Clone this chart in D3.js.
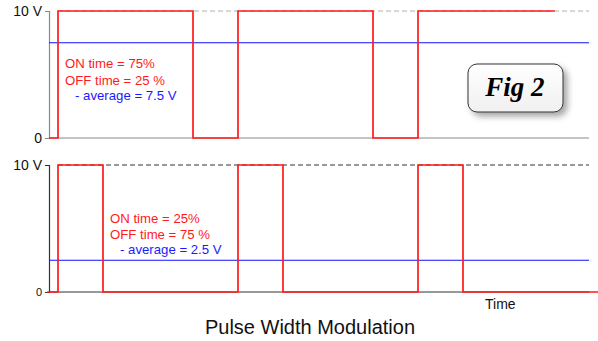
<!DOCTYPE html>
<html><head><meta charset="utf-8">
<script src="https://cdn.jsdelivr.net/npm/d3@7"></script>
<style>
html,body{margin:0;padding:0;background:#fff;}
svg{display:block;font-family:"Liberation Sans",Arial,sans-serif;}
</style></head>
<body>
<svg id="c" width="598" height="341"></svg>
<script>
// ---- data ----
const topTimes = [0, 0.05, 0.80, 1.05, 1.80, 2.05, 2.81];
const topVolts = [0, 10, 0, 10, 0, 10, 10];
const botTimes = [-0.01, 0.05, 0.30, 1.05, 1.30, 2.05, 2.30, 3.05];
const botVolts = [0, 10, 0, 10, 0, 10, 0, 0];
const averages = [7.5, 2.5];
const yTickValues = [0, 10];
const yTickLabels = ["0", "10 V"];
const topNotes = ["ON time = 75%", "OFF time = 25 %", "- average = 7.5 V"];
const botNotes = ["ON time = 25%", "OFF time = 75 %", "- average = 2.5 V"];
const title = "Pulse Width Modulation";
const xLabel = "Time";
const figLabel = "Fig 2";

const svg = d3.select("#c");
const defs = svg.append("defs");
const f = defs.append("filter").attr("id","sh").attr("x","-20%").attr("y","-20%").attr("width","150%").attr("height","160%");
f.append("feDropShadow").attr("dx",4).attr("dy",4).attr("stdDeviation",3).attr("flood-color","#000").attr("flood-opacity",0.35);
const g = defs.append("linearGradient").attr("id","bg").attr("x1",0).attr("y1",0).attr("x2",0).attr("y2",1);
g.append("stop").attr("offset","0%").attr("stop-color","#ffffff");
g.append("stop").attr("offset","100%").attr("stop-color","#f0f0f0");

const x = d3.scaleLinear().domain([0, 3]).range([49, 589]);
const yTop = d3.scaleLinear().domain([0, 10]).range([138, 11]);
const yBot = d3.scaleLinear().domain([0, 10]).range([292, 165]);

function panel(y, times, volts, avg, notes, opts) {
  const gp = svg.append("g");
  // dashed 10 V reference
  gp.append("line").attr("x1", x(opts.dashFrom)).attr("x2", x(3)).attr("y1", y(10)).attr("y2", y(10))
    .attr("stroke", opts.dashColor).attr("stroke-width", 1).attr("stroke-dasharray", "5,3");
  // baseline
  gp.append("line").attr("x1", x(0)).attr("x2", x(3)).attr("y1", y(0)).attr("y2", y(0))
    .attr("stroke", opts.axisColor).attr("stroke-width", 1.2);
  // axis
  const ax = d3.axisLeft(y).tickValues(yTickValues).tickSize(4).tickPadding(3)
    .tickFormat((d,i) => yTickLabels[i]);
  const ag = gp.append("g").attr("transform", `translate(${x(0)},0)`).call(ax);
  ag.select(".domain").attr("stroke", opts.axisColor).attr("stroke-width", 1.2);
  ag.selectAll(".tick line").attr("stroke", opts.axisColor);
  ag.selectAll(".tick text").attr("fill", "#111").attr("font-family", "Liberation Sans, Arial, sans-serif")
    .attr("font-size", d => d === 10 ? 14 : opts.zeroSize);
  // average
  gp.append("line").attr("x1", x(0)).attr("x2", x(3)).attr("y1", y(avg)).attr("y2", y(avg))
    .attr("stroke", "#1010ff").attr("stroke-width", 1.1);
  // waveform
  const pts = times.map((t, i) => [t, volts[i]]);
  const line = d3.line().x(d => x(d[0])).y(d => y(d[1])).curve(d3.curveStepAfter);
  gp.append("path").attr("d", line(pts)).attr("fill", "none").attr("stroke", "#ff1a1a").attr("stroke-width", 1.7);
  // notes
  const colors = ["#ff1a1a", "#ff1a1a", "#1a1aff"];
  notes.forEach((n, i) => {
    gp.append("text").attr("x", opts.noteX + (i === 2 ? 10 : 0)).attr("y", opts.noteY[i])
      .attr("fill", colors[i]).attr("font-size", 13.2).text(n);
  });
}

panel(yTop, topTimes, topVolts, averages[0], topNotes,
  {dashFrom: 0.05, dashColor: "#b0b0b0", axisColor: "#8a8a8a", zeroSize: 14, noteX: 65, noteY: [68, 84.5, 99.5]});
panel(yBot, botTimes, botVolts, averages[1], botNotes,
  {dashFrom: 0.05, dashColor: "#333", axisColor: "#333", zeroSize: 11, noteX: 110, noteY: [223, 238.5, 253.5]});

// Fig 2 box
svg.append("rect").attr("x", 468).attr("y", 64).attr("width", 95).attr("height", 48).attr("rx", 9)
  .attr("fill", "url(#bg)").attr("stroke", "#333").attr("stroke-width", 1).attr("filter", "url(#sh)");
svg.append("text").attr("x", 515).attr("y", 96).attr("text-anchor", "middle")
  .attr("font-family", "Liberation Serif, Times New Roman, serif").attr("font-weight", "bold")
  .attr("font-style", "italic").attr("font-size", 27).attr("fill", "#000").text(figLabel);

svg.append("text").attr("x", 485).attr("y", 309).attr("font-size", 14).attr("fill", "#111").text(xLabel);
svg.append("text").attr("x", 310).attr("y", 334).attr("text-anchor", "middle").attr("font-size", 20)
  .attr("fill", "#111").text(title);
</script>
</body></html>
